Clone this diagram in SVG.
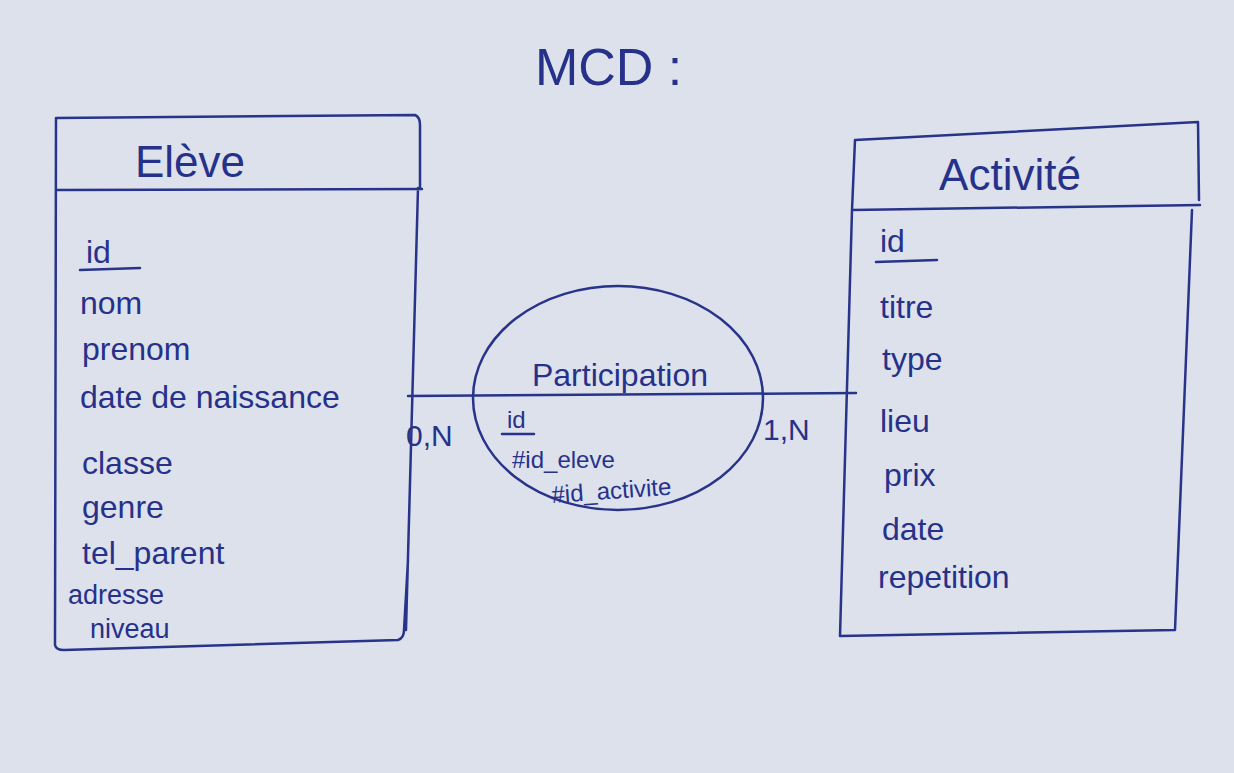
<svg xmlns="http://www.w3.org/2000/svg" width="1234" height="773" viewBox="0 0 1234 773">
<style>
.ink{fill:none;stroke:#28338a;stroke-width:2.5;stroke-linecap:round;stroke-linejoin:round}
text{font-family:"Liberation Sans","DejaVu Sans",sans-serif;fill:#26318a}
.title{font-size:52px}
.head{font-size:44px}
.attr{font-size:32px}
.attr2{font-size:27px}
.small{font-size:24px}
.card{font-size:30px}
</style>
<rect x="0" y="0" width="1234" height="773" fill="#dde1ec"/>
<text class="title" x="535" y="85">MCD :</text>
<g id="connectors">
<path class="ink" d="M408 396 L856 393"/>
<text class="card" x="406" y="446">0,N</text>
<text class="card" x="763" y="440">1,N</text>
</g>
<g id="eleve">
<path class="ink" d="M56 118 L415 115 Q420 117 420 125 L420 188 M56 118 L55 645 Q56 650 64 650 L398 640 Q404 638 404 630 L408 560 M56 190 L422 189 M418 188 L406 630"/>
<text class="head" x="190" y="177" text-anchor="middle">Elève</text>
<text class="attr" x="86" y="263">id</text>
<path class="ink" d="M80 270 L140 268"/>
<text class="attr" x="80" y="314">nom</text>
<text class="attr" x="82" y="360">prenom</text>
<text class="attr" x="80" y="408">date de naissance</text>
<text class="attr" x="82" y="474">classe</text>
<text class="attr" x="82" y="518">genre</text>
<text class="attr" x="82" y="564">tel_parent</text>
<text class="attr2" x="68" y="604">adresse</text>
<text class="attr2" x="90" y="638">niveau</text>
</g>
<g id="activite">
<path class="ink" d="M855 140 L1198 122 L1199 200 M855 140 L852 210 L840 636 L1175 630 L1192 210 M852 210 L1200 205"/>
<text class="head" x="1010" y="190" text-anchor="middle">Activité</text>
<text class="attr" x="880" y="252">id</text>
<path class="ink" d="M876 262 L937 260"/>
<text class="attr" x="880" y="318">titre</text>
<text class="attr" x="882" y="370">type</text>
<text class="attr" x="880" y="432">lieu</text>
<text class="attr" x="884" y="486">prix</text>
<text class="attr" x="882" y="540">date</text>
<text class="attr" x="878" y="588">repetition</text>
</g>
<g id="participation">
<ellipse class="ink" cx="618" cy="398" rx="145" ry="112"/>
<text class="attr" x="620" y="386" text-anchor="middle">Participation</text>
<text class="small" x="507" y="428">id</text>
<path class="ink" d="M502 434 L534 434"/>
<text class="small" x="512" y="468">#id_eleve</text>
<text class="small" x="552" y="503" transform="rotate(-4 552 503)">#id_activite</text>
</g>
</svg>
